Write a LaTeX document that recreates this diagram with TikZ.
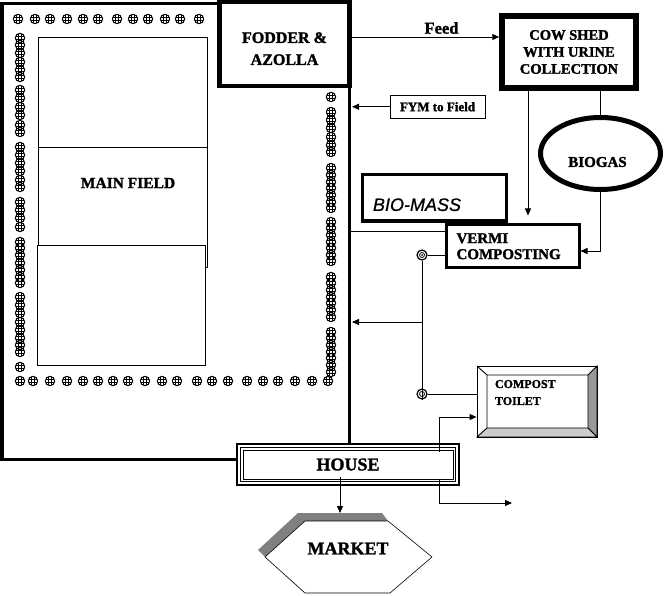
\documentclass[tikz,border=0pt]{standalone}
\usepackage{fontspec}
\setmainfont{Liberation Serif}[BoldFeatures={FakeBold=1.6}]
\newfontfamily\arialfont{Liberation Sans}[ItalicFeatures={FakeBold=0.8}]
\usetikzlibrary{arrows.meta,shapes.geometric}
\tikzset{
  box/.style={draw, fill=white, inner sep=0pt, align=center},
  arr/.style={line width=0.9pt, -{Triangle[length=7pt,width=6pt]}},
  ln/.style={line width=0.9pt},
  valve/.style={circle, draw, line width=1.2pt, minimum size=10pt, inner sep=0pt},
  hedge/.pic={
    \draw[line width=1pt] (0,0) circle[radius=4.7];
    \draw[line width=0.75pt] (-1.7,-4.3) -- (-1.7,4.3) (1.7,-4.3) -- (1.7,4.3)
      (-4.3,-1.7) -- (4.3,-1.7) (-4.3,1.7) -- (4.3,1.7);
  }
}
\begin{document}
\begin{tikzpicture}[x=1pt,y=-1pt]
\useasboundingbox (0,0) rectangle (665,596);
% outer plot boundary
\draw[line width=3pt] (2,3.5) rectangle (349.5,460);
% main field plots
\draw[line width=0.9pt] (38,37) rectangle (207,147);
\draw[line width=0.9pt] (38,147) rectangle (207,267);
\draw[line width=0.9pt, fill=white] (37,245) rectangle (205,365);
\node[font=\bfseries\fontsize{15.5}{17}\selectfont] (field) at (128,183) {MAIN FIELD};
% hedges
\foreach \x in {18,35,50,67,83,98,117,133,148,165,180,199} \pic at (\x,19) {hedge};
\foreach \y in {38,45,53,62,70,77,90,98,107,115,125,132,147,155,163,171,180,187,202,210,218,227,242,248,255,263,270,277,283,297,305,313,322,330,338,345,352,367} \pic at (20,\y) {hedge};
\foreach \y in {97,112,120,128,137,145,152,168,175,182,188,195,202,208,222,228,235,242,248,255,261,277,283,290,297,303,310,317,332,338,345,352,358,365,372} \pic at (331,\y) {hedge};
\foreach \x in {20,33,50,67,83,98,113,128,145,162,177,197,212,228,247,263,278,295,312,328} \pic at (\x,381) {hedge};
% boxes
\node[box, line width=4.5pt, minimum width=130pt, minimum height=84pt,
      font=\bfseries\fontsize{16}{22}\selectfont] (fodder) at (284.5,44) {\rule{0pt}{20pt}FODDER \&\\AZOLLA};
\node[box, line width=5.5pt, minimum width=134pt, minimum height=72pt,
      font=\bfseries\fontsize{14.5}{17}\selectfont] (cow) at (569,52) {COW SHED\\WITH URINE\\COLLECTION};
\node[box, line width=0.9pt, minimum width=95pt, minimum height=23.5pt,
      font=\bfseries\fontsize{13}{15}\selectfont] (fym) at (437.5,106.75) {FYM to Field};
\node[ellipse, draw, line width=5pt, minimum width=120pt, minimum height=72pt, inner sep=0pt,
      font=\bfseries\fontsize{15}{17}\selectfont] (biogas) at (600.5,153.5) {\rule{0pt}{27pt}BIOGAS\kern6pt};
\node[box, line width=3.2pt, minimum width=144pt, minimum height=46.5pt, text width=123pt, align=left,
      font=\arialfont\itshape\fontsize{18}{20}\selectfont] (biomass) at (434.5,197.8) {\rule{0pt}{26.4pt}BIO-MASS};
\node[box, line width=3pt, minimum width=132.5pt, minimum height=42.5pt, text width=112.5pt, align=left,
      font=\bfseries\fontsize{15}{16}\selectfont] (vermi) at (512.75,246.25) {VERMI\\COMPOSTING};
% compost toilet
\node[draw, fill=white, line width=0.9pt, inner sep=0pt, minimum width=120pt, minimum height=71pt,
      text width=84pt, align=left, font=\bfseries\fontsize{12}{17}\selectfont] (toilet) at (537,401.5)
      {COMPOST\\TOILET\rule[-18pt]{0pt}{18pt}};
\filldraw[fill=black!40, line width=0.9pt] (588,375) -- (597,366) -- (597,437) -- (588,428) -- cycle;
\filldraw[fill=black!20, line width=0.9pt] (487,428) -- (588,428) -- (597,437) -- (477,437) -- cycle;
\draw[line width=0.9pt] (477,366) -- (487,375) -- (588,375) (487,375) -- (487,428);
% house
\node[draw, fill=white, line width=2pt, inner sep=0pt, minimum width=222pt, minimum height=41pt,
      font=\bfseries\fontsize{18}{20}\selectfont] (house) at (348,464.5) {HOUSE};
\draw[line width=1.2pt] (240.5,447.5) rectangle (455.5,481.5);
\draw[line width=0.9pt] (243,450) rectangle (453,479);
% market
\fill[black!50] (258,550) -- (298,513) -- (382,513) -- (388,521) -- (305,521) -- (265,557) -- cycle;
\draw[line width=0.6pt, fill=white] (265,557) -- (305,521) -- (388,521) -- (432,557) -- (390,593) -- (305,593) -- cycle;
\node[font=\bfseries\fontsize{18}{20}\selectfont] (market) at (348,548.5) {MARKET};
% valves
\node[valve] (v1) at (422,255) {};
\draw[line width=0.8pt] (v1.center) circle[radius=2.5];
\fill (v1.center) circle[radius=1];
\node[valve] (v2) at (422,394) {};
\draw[line width=0.8pt] (v2.center) circle[radius=2.5];
% connectors
\node[font=\bfseries\fontsize{16.5}{18}\selectfont] (feed) at (441.5,28) {Feed};
\coordinate (feedA) at (352,37);
\draw[arr] (feedA) -- (cow.west |- feedA);
\coordinate (fymEnd) at (352,107);
\draw[arr] (fym.west) -- (fym.west -| fymEnd);
\coordinate (cvx) at (528,100);
\draw[arr, shorten >=8pt] (cow.south -| cvx) -- (vermi.north -| cvx);
\draw[ln] (cow.south -| biogas.north) -- (biogas.north);
\coordinate (bvy) at (600,251);
\draw[arr] (biogas.south) |- (vermi.east |- bvy);
\coordinate (o231) at (351,231);
\draw[ln] (o231) -- (vermi.west |- o231);
\draw[ln] (v1.east) -- (vermi.west |- v1.east);
\draw[ln] (v1.south) -- (v2.north);
\draw[ln] (v2.north) -- (v2.south);
\draw[ln] (v2.east) -- (toilet.west |- v2.east);
\coordinate (j1) at (422,322);
\coordinate (o322) at (352,322);
\draw[arr] (j1) -- (o322);
\coordinate (h1) at (439,452);
\coordinate (h2) at (439,417);
\draw[arr] (h1) -- (h2) -- (toilet.west |- h2);
\coordinate (h3) at (439,480);
\coordinate (h4) at (439,503);
\coordinate (outEnd) at (512,503);
\draw[arr] (h3) -- (h4) -- (outEnd);
\coordinate (h5) at (340,477);
\coordinate (mtop) at (340,513);
\draw[arr] (h5) -- (mtop);
\end{tikzpicture}
\end{document}
